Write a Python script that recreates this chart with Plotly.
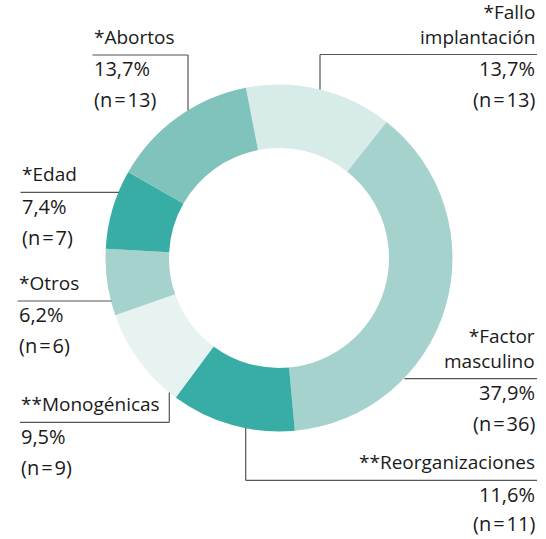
import plotly.graph_objects as go

W, H = 546, 539

# Data: causes, share (%) and counts, in clockwise order from the top
causas = ["*Fallo implantación", "*Factor masculino", "**Reorganizaciones",
          "**Monogénicas", "*Otros", "*Edad", "*Abortos"]
porcentajes = [13.7, 37.9, 11.6, 9.5, 6.2, 7.4, 13.7]
casos = [13, 36, 11, 9, 6, 7, 13]
colores = ["#d7ebe8", "#a6d2ce", "#38ada5", "#e7f3f1", "#a6d2ce", "#38ada5", "#7fc3bc"]

# Donut geometry in pixels
CX, CY, R = 279, 258, 173.5

fig = go.Figure(go.Pie(
    labels=causas,
    values=porcentajes,
    sort=False,
    direction="clockwise",
    rotation=-11,
    hole=0.634,
    marker=dict(colors=colores, line=dict(width=0)),
    textinfo="none",
    hoverinfo="label+percent",
    domain=dict(x=[(CX - R) / W, (CX + R) / W], y=[1 - (CY + R) / H, 1 - (CY - R) / H]),
    showlegend=False,
))

TITLE_FONT = dict(family="Open Sans", size=19, color="#1a1a1a")
NUM_FONT = dict(family="Open Sans", size=20, color="#1a1a1a")
LINE = dict(color="#555555", width=1.2)


def px(x):
    return x / W


def py(y):
    return 1 - y / H


def texto(x, baseline, s, align, font):
    # anchor the box bottom just below the last baseline (font descent)
    fig.add_annotation(
        x=px(x), y=py(baseline + 0.29 * font["size"]), xref="paper", yref="paper",
        text=s, showarrow=False, xanchor=align, yanchor="bottom", align=align,
        font=font, borderpad=0,
    )


def linea(pts):
    for (x0, y0), (x1, y1) in zip(pts[:-1], pts[1:]):
        fig.add_shape(type="line", xref="paper", yref="paper",
                      x0=px(x0), y0=py(y0), x1=px(x1), y1=py(y1), line=LINE)


def fmt(p):
    return f"{p:.1f}".replace(".", ",") + "%"


# Label layout: (title, text x, alignment, rule y, leader polyline)
etiquetas = {
    "*Fallo implantación": ("*Fallo<br>implantación", 537, "right", 54.5,
                            [(537, 54.5), (320, 54.5), (320, 89.5)]),
    "*Factor masculino": ("*Factor<br>masculino", 537, "right", 378.7,
                          [(537, 378.7), (404.5, 378.7)]),
    "**Reorganizaciones": ("**Reorganizaciones", 537, "right", 480.3,
                           [(537, 480.3), (245.7, 480.3), (245.7, 428)]),
    "**Monogénicas": ("**Monogénicas", 20, "left", 422.3,
                      [(20, 422.3), (169.3, 422.3), (169.3, 392.5)]),
    "*Otros": ("*Otros", 17.5, "left", 301, [(17.5, 301), (111.5, 301)]),
    "*Edad": ("*Edad", 20.5, "left", 192.3, [(20.5, 192.3), (119, 192.3)]),
    "*Abortos": ("*Abortos", 92.5, "left", 55, [(92.5, 55), (188, 55), (188, 110.5)]),
}

HS = "\u200a"  # hair space around the equals sign

for causa, p, n in zip(causas, porcentajes, casos):
    titulo, x, al, ry, pts = etiquetas[causa]
    linea(pts)
    pad = -1 if al == "right" else 0
    texto(x + pad, ry - 9.5, titulo, al, TITLE_FONT)
    texto(x + pad, ry + 22.5, fmt(p), al, NUM_FONT)
    texto(x + pad, min(ry + 53.5, 532), f"(n{HS}={HS}{n})", al, NUM_FONT)

fig.update_layout(
    width=W, height=H,
    margin=dict(l=0, r=0, t=0, b=0),
    paper_bgcolor="white", plot_bgcolor="white",
)

fig.write_html("out.html")
